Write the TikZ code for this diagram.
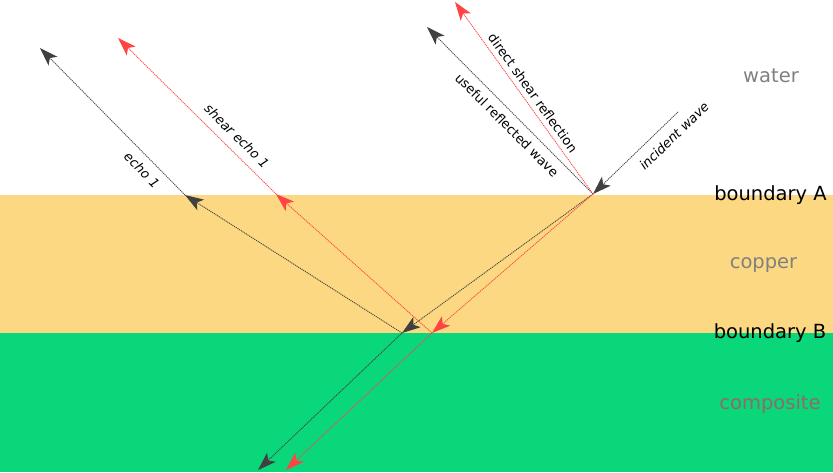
\documentclass[tikz,border=0pt]{standalone}
\usepackage{fontspec}
\setmainfont{DejaVu Sans}
\usetikzlibrary{arrows.meta}
\definecolor{copperc}{HTML}{FDD882}
\definecolor{compc}{HTML}{0AD67A}
\definecolor{darkray}{HTML}{404040}
\definecolor{redray}{HTML}{FF4444}
\definecolor{labgray}{HTML}{808080}
\definecolor{complab}{HTML}{8F6B6B}
\tikzset{
  tip/.style={-{Stealth[length=18.5pt,width=12.5pt,inset=4.5pt]}},
  darkwave/.style={tip, draw=darkray, fill=darkray, line width=0.9pt, dash pattern=on 0.9pt off 1.1pt},
  redwave/.style={tip, draw=redray, fill=redray, line width=0.9pt, dash pattern=on 0.9pt off 1.1pt},
  medium/.style={font=\fontsize{19.5}{22}\selectfont, anchor=base},
  bound/.style={font=\fontsize{19.5}{22}\selectfont, anchor=base, text=black},
  raylab/.style={font=\fontsize{13}{15}\selectfont, text=black, inner sep=0pt},
  raylabit/.style={font=\fontsize{13}{15}\selectfont\itshape, text=black, inner sep=0pt}
}
\begin{document}
\begin{tikzpicture}[x=1pt,y=-1pt]
\useasboundingbox (0,0) rectangle (833,472);
% layers
\fill[copperc] (0,195) rectangle (833,333);
\fill[compc] (0,333) rectangle (833,472);
% points
\coordinate (I) at (678,112);
\coordinate (A) at (593,194);
\coordinate (U) at (427,27);
\coordinate (D) at (455,2);
\coordinate (B1) at (402,333);
\coordinate (B2) at (432,333);
\coordinate (E1) at (185,195);
\coordinate (S1) at (276,194);
\coordinate (E1end) at (40,48);
\coordinate (S1end) at (118,38);
\coordinate (C1) at (258,470);
\coordinate (C2) at (286,470);
% rays
\draw[darkwave] (I) -- (A);
\draw[darkwave] (A) -- (U);
\draw[redwave] (A) -- (D);
\draw[darkwave] (A) -- (B1);
\draw[redwave] (A) -- (B2);
\draw[darkwave] (B1) -- (C1);
\draw[redwave] (B2) -- (C2);
\draw[darkwave] (B1) -- (E1);
\draw[redwave] (B2) -- (S1);
\draw[darkwave] (E1) -- (E1end);
\draw[redwave] (S1) -- (S1end);
% ray labels
\node[raylab, rotate=-54.3] (ldsr) at (533,93) {direct shear reflection};
\node[raylab, rotate=-45] (lurw) at (507,125) {useful reflected wave};
\node[raylabit, rotate=44] (linc) at (674,136) {incident wave};
\node[raylabit, rotate=-44.5] (lse) at (237,136) {shear echo 1};
\node[raylabit, rotate=-45] (le) at (142,170) {echo 1};
% medium labels
\node[medium, text=labgray] (water) at (771,82) {water};
\node[bound] (bA) at (770.5,200) {boundary A};
\node[medium, text=labgray] (copper) at (763.5,268) {copper};
\node[bound] (bB) at (770,338) {boundary B};
\node[medium, text=complab] (comp) at (770,409) {composite};
\end{tikzpicture}
\end{document}
